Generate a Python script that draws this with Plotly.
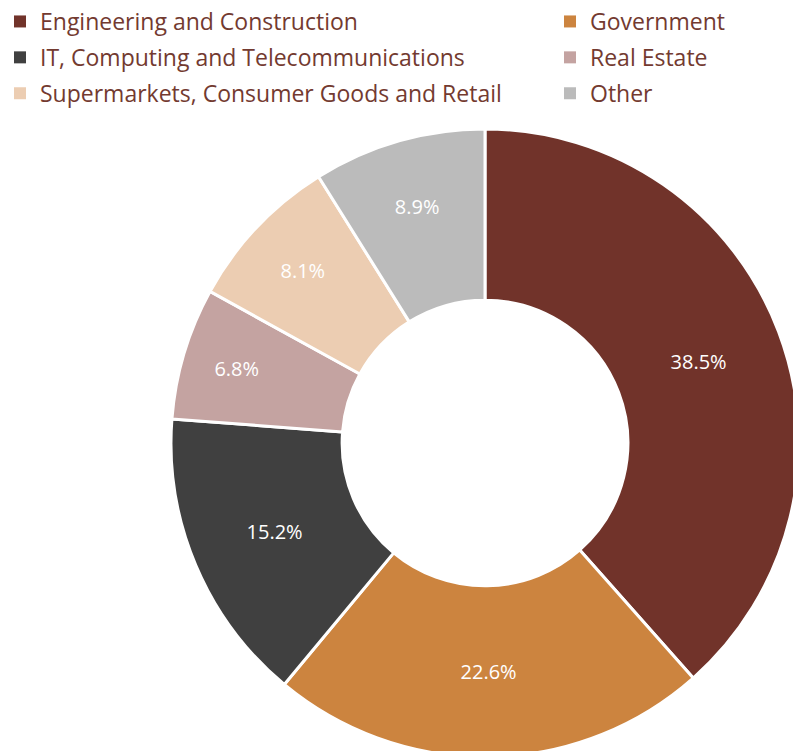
import plotly.graph_objects as go

labels = ["Engineering and Construction", "Government", "IT, Computing and Telecommunications",
          "Real Estate", "Supermarkets, Consumer Goods and Retail", "Other"]
values = [38.5, 22.6, 15.2, 6.8, 8.1, 8.9]
colors = ["#71332A", "#CC843F", "#404040", "#C4A3A1", "#ECCDB2", "#BBBBBB"]
# legend column of each category (1 = left, 2 = right)
legend_col = [1, 2, 1, 2, 1, 2]

# canvas slightly larger than the 793x751 window so the donut may touch/cross the right edge
W, H = 810, 760
cx, cy, r = 485, 443, 314
FONT = "Open Sans"
TXT = "#733A30"

fig = go.Figure()
fig.add_trace(go.Pie(
    labels=labels, values=values, sort=False, direction="clockwise", rotation=0,
    hole=0.455, showlegend=False,
    marker=dict(colors=colors, line=dict(color="white", width=3)),
    texttemplate="%{value:.1f}%", textposition="inside", insidetextorientation="horizontal",
    textfont=dict(color="white", size=20, family=FONT),
    hoverinfo="label+value",
    domain=dict(x=[max(0.0, (cx - r) / W), min(1.0, (cx + r) / W)],
                y=[max(0.0, (H - cy - r) / H), min(1.0, (H - cy + r) / H)]),
))

# legend entries (two columns, as in the reference)
for lab, col, c in zip(labels, legend_col, colors):
    fig.add_trace(go.Scatter(
        x=[None], y=[None], mode="markers", name=lab, legendgroup=lab,
        marker=dict(symbol="square", size=12, color=c),
        legend="legend" if col == 1 else "legend2", hoverinfo="skip",
    ))

leg_common = dict(orientation="v", yanchor="top", xanchor="left", bgcolor="rgba(0,0,0,0)",
                  font=dict(size=23, color=TXT, family=FONT), tracegroupgap=3,
                  itemclick=False, itemdoubleclick=False)
fig.update_layout(
    width=W, height=H, margin=dict(l=0, r=0, t=0, b=0),
    paper_bgcolor="white", plot_bgcolor="white",
    font=dict(family=FONT, color=TXT),
    xaxis=dict(visible=False), yaxis=dict(visible=False),
    legend=dict(x=0, y=1, **leg_common),
    legend2=dict(x=550 / W, y=1, **leg_common),
)
fig.write_html("out.html", config={"displayModeBar": False},
               post_script="document.body.style.margin='0';document.body.style.overflow='hidden';")
